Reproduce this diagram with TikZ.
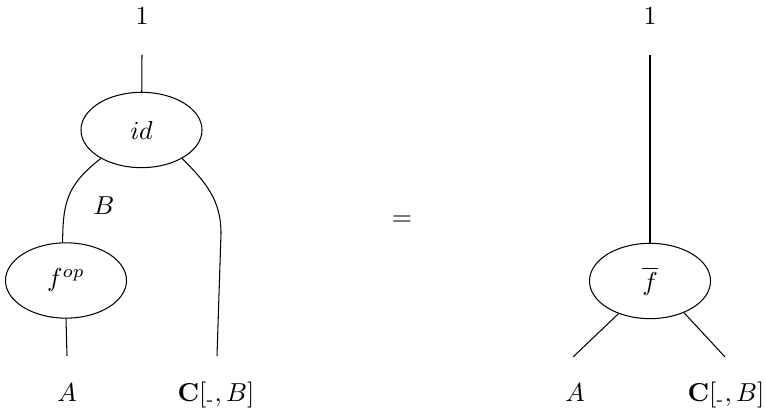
\documentclass[tikz,border=0pt]{standalone}
\usepackage{amsmath}
\usepackage{amssymb}
\usetikzlibrary{shapes.geometric}
\tikzset{
  morph/.style ={draw,ellipse,inner sep=0pt,
                 minimum width=46.6pt,minimum height=29pt},
  wire/.style  ={line width=0.4pt},
  lbl/.style   ={anchor=base,inner sep=0pt},
}
\newcommand{\homC}{\mathbf{C}[{}_{\text{-}},B]}
\begin{document}
\begin{tikzpicture}[x=0.385pt,y=0.385pt]
\useasboundingbox (0,0) rectangle (766,409);
% left hand side
\node[lbl] (oneL) at (142,384) {$1$};
\coordinate (topL) at (142,354);
\node[morph] (id) at (141.5,279) {$id$};
\node[morph] (fop) at (66,128.5) {$f^{op}$};
\node[lbl] (B) at (104,194) {$B$};
\coordinate (endA) at (67,53);
\coordinate (bendC) at (221,176);
\coordinate (endC) at (217,53);
\node[lbl] (AL) at (67,7) {$A$};
\node[lbl] (CL) at (216,7) {$\homC$};
\draw[wire] (topL) -- (id);
\draw[wire] (id.215) to[out=-142,in=90,looseness=1.15] (fop.95);
\draw[wire] (id.-35) to[out=-45,in=90] (bendC) -- (endC);
\draw[wire] (fop.south) -- (endA);
% equals
\node (eq) at (402,188) {$=$};
% right hand side
\node[lbl] (oneR) at (650,384) {$1$};
\coordinate (topR) at (650,354);
\node[morph] (fbar) at (650,128) {$\overline{f}$};
\coordinate (legA) at (573,52);
\coordinate (legC) at (725,52);
\node[lbl] (AR) at (575,7) {$A$};
\node[lbl] (CR) at (726,7) {$\homC$};
\draw[wire] (topR) -- (fbar);
\draw[wire] (fbar.226) -- (legA);
\draw[wire] (fbar.-43) -- (legC);
\end{tikzpicture}
\end{document}
